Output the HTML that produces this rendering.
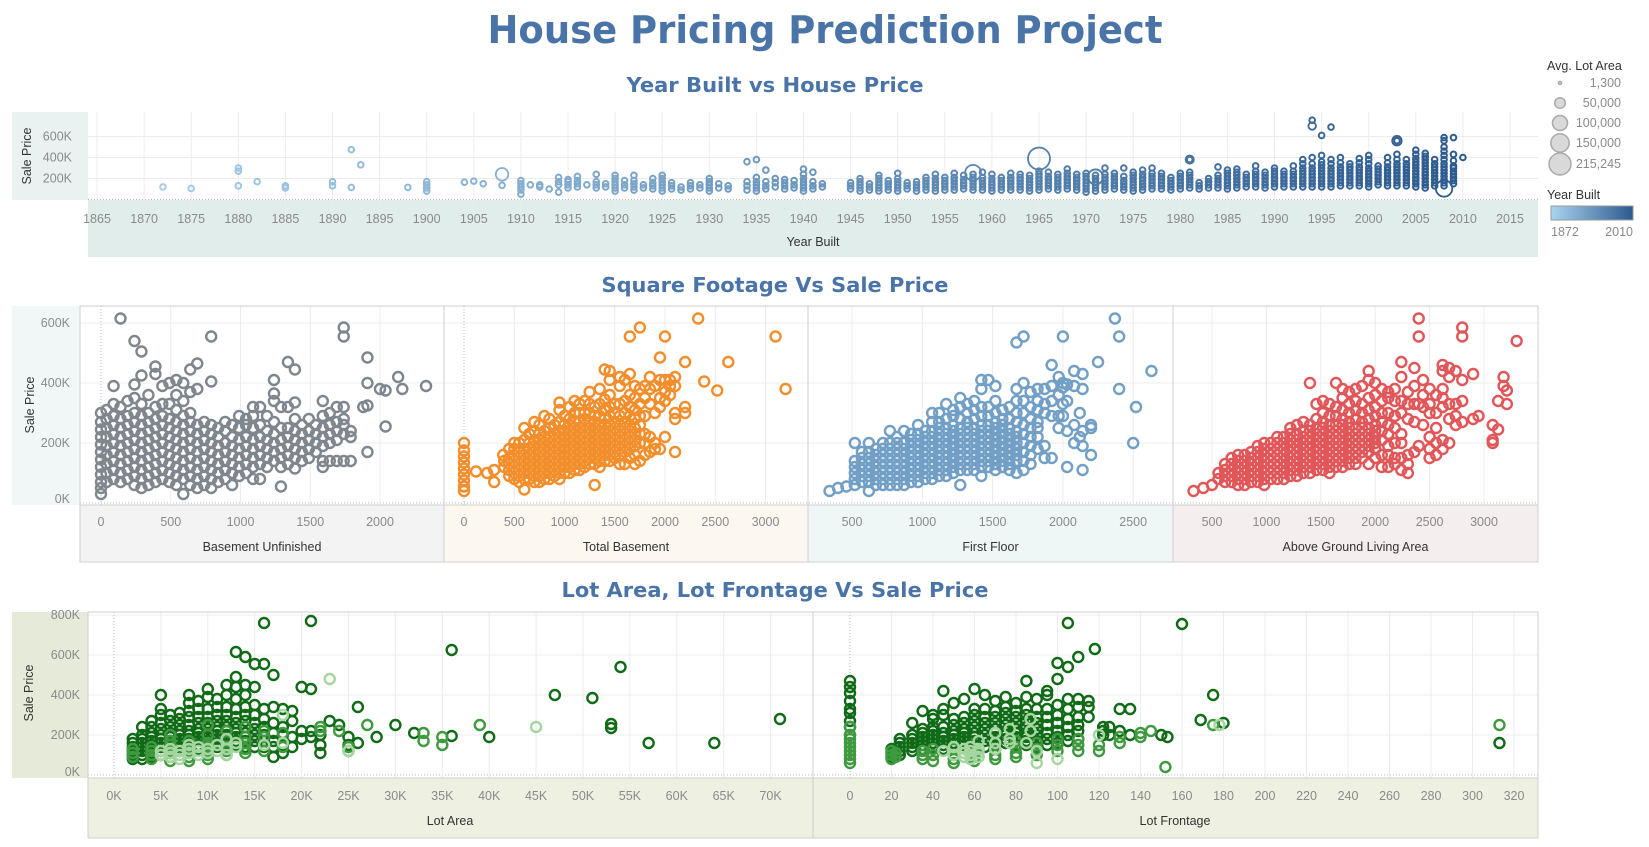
<!DOCTYPE html>
<html><head><meta charset="utf-8">
<style>
html,body{margin:0;padding:0;background:#fff;}
svg{display:block;font-family:"Liberation Sans","DejaVu Sans",sans-serif;}
.tick{font-size:12.5px;fill:#8a8a8a;}
.atitle{font-size:12.5px;fill:#333;}
.sec{font-family:"DejaVu Sans",sans-serif;font-weight:bold;fill:#4a74a8;}
</style></head>
<body>
<svg id="dash" width="1649" height="847" viewBox="0 0 1649 847" xmlns="http://www.w3.org/2000/svg">
<text x="825" y="43" text-anchor="middle" class="sec" font-size="38" textLength="675" lengthAdjust="spacingAndGlyphs">House Pricing Prediction Project</text>
<text x="775" y="92" text-anchor="middle" class="sec" font-size="20" textLength="297" lengthAdjust="spacingAndGlyphs">Year Built vs House Price</text>
<text x="775" y="292" text-anchor="middle" class="sec" font-size="20" textLength="347" lengthAdjust="spacingAndGlyphs">Square Footage Vs Sale Price</text>
<text x="775" y="597" text-anchor="middle" class="sec" font-size="20" textLength="427" lengthAdjust="spacingAndGlyphs">Lot Area, Lot Frontage Vs Sale Price</text>

<rect x="12" y="112" width="76" height="88" fill="#e9f2f0"/>
<rect x="88" y="200" width="1450" height="57" fill="#e0edea"/>
<rect x="12" y="306" width="68" height="199" fill="#f1f7f7"/>
<rect x="80" y="505" width="364" height="57" fill="#f3f3f3"/>
<rect x="444" y="505" width="364" height="57" fill="#fdf8ef"/>
<rect x="808" y="505" width="365" height="57" fill="#eff7f6"/>
<rect x="1173" y="505" width="365" height="57" fill="#f4eeee"/>
<rect x="12" y="612" width="76" height="166" fill="#e6ead8"/>
<rect x="88" y="778" width="1450" height="60" fill="#eef1e2"/>

<g id="grids"></g>
<g id="marks"></g>
<g id="frames"></g>
<g id="labels"></g>

<g font-size="12.5">
<text x="1547" y="70" fill="#333">Avg. Lot Area</text>
</g>
<g id="sizeLegend"></g>
<text x="1547" y="199" fill="#333" font-size="12.5">Year Built</text>
<defs><linearGradient id="yb" x1="0" x2="1"><stop offset="0" stop-color="#a9d3ef"/><stop offset="1" stop-color="#2c5a8e"/></linearGradient></defs>
<rect x="1551" y="206" width="82" height="14" fill="url(#yb)" stroke="#999"/>
<text x="1551" y="236" class="tick">1872</text>
<text x="1633" y="236" class="tick" text-anchor="end">2010</text>
</svg>
<script>
// ---------- DATA ----------
const ybYears=[1872,1875,1880,1882,1885,1890,1892,1893,1898,1900,1904,1905,1906,1908,1910,1911,1912,1913,1914,1915,1916,1917,1918,1919,1920,1921,1922,1923,1924,1925,1926,1927,1928,1929,1930,1931,1932,1934,1935,1936,1937,1938,1939,1940,1941,1942,1945,1946,1947,1948,1949,1950,1951,1952,1953,1954,1955,1956,1957,1958,1959,1960,1961,1962,1963,1964,1965,1966,1967,1968,1969,1970,1971,1972,1973,1974,1975,1976,1977,1978,1979,1980,1981,1982,1983,1984,1985,1986,1987,1988,1989,1990,1991,1992,1993,1994,1995,1996,1997,1998,1999,2000,2001,2002,2003,2004,2005,2006,2007,2008,2009,2010];
const ybPrices=[[120],[105],[130,270,300],[170],[110,130],[130,170],[115,475],[330],[115],[80,110,140,170],[165],[175],[150],[135],
[50,90,120,150,180],[140],[120,140],[100],[70,140,170,210],[110,140,170,190],[120,150,180,220],[140],[110,140,170,240],[120,150],
[80,110,140,170,200,230],[110,140,180],[90,120,150,180,230],[110,140],[100,130,160,200],[80,110,140,170,200,230],[100,130,160],[90,120],[100,130,160],[110,140],[80,110,140,170,200],[110,150],[100,130],[90,130,170,360],[80,110,140,170,210,380],[100,130,170,280],[120,160,200],[100,130,160,190],[110,140,180],[80,110,140,170,200,240,290],[100,130,170,260],[120,150],
[100,130,160],[80,110,140,170,200],[90,120,150],[80,110,140,170,200,230],[90,120,150,180],[80,110,140,170,200,250],[100,130,160],[80,110,140,170],[90,120,150,180,210],[80,110,140,170,200,240],[90,120,150,180,210],[90,120,150,180,210,250],[100,130,160,190,230],[90,120,150,180,210,240],[90,120,150,180,210,260],[80,110,140,170,200,240],[90,120,150,180,210],[90,120,150,180,210,250],[90,120,150,180,210,240],[80,110,140,170,200,230],[90,120,150,180,210,240,270],[100,130,160,190,220,260],[90,120,150,180,210,240],[100,130,160,190,220,250,290],[90,120,150,180,210,240],[70,100,130,160,190,220,250],[80,110,140,170,200,230],[90,120,150,180,210,240,300],[100,130,160,190,220,250],[90,120,150,180,220,300],[80,110,140,170,200,230,260],[90,120,150,180,210,240,280],[100,130,160,190,220,250,300],[100,130,160,190,220,250],[90,120,150,180,210],[100,130,160,190,220,250],[110,140,170,200,230,260,380],[100,130,160],[110,140,170,200],[110,140,170,200,230,310],[100,130,160,190,220,250,280],[110,140,170,200,230,260,290],[120,150,180,210,240],[120,150,180,210,240,270,320],[110,140,170,200,230,260],[120,150,180,210,240,270,300],[120,150,180,210,240,270],[120,150,180,210,240,270,320],[120,150,180,210,240,270,300,340,380],[120,150,180,210,240,270,300,340,400,755],[120,150,180,210,240,270,300,330,360,420,610],[120,150,180,210,240,270,300,340,380,690],[130,160,190,220,250,280,310,350,400],[130,160,190,220,250,280,310,340],[130,160,190,220,250,280,310,350,390],[120,150,180,210,240,270,300,340,380,420],[140,170,200,230,260,290,320],[130,160,190,220,250,280,310,350,400],[130,160,190,220,250,280,310,340,380,430,560],[130,160,190,220,250,280,310,340,380],[120,150,180,210,240,270,300,330,360,390,430,470],[110,140,170,200,230,260,290,320,350,380,410,440],[130,160,190,220,250,280,310,340,380],[130,160,190,220,250,280,310,340,380,420,460,500,560,590],[150,180,210,240,270,300,320,370,430,590],[400]];
const bigYears=[1908,1958,1965,1971,1981,2003,1994,2008];
const bigPrices=[240,255,390,215,380,560,700,105];
const bigLots=[70000,110000,215245,100000,30000,40000,25000,120000];
const sizeLegendVals=[1300,50000,100000,150000,215245];
const yearTicks=[1865,1870,1875,1880,1885,1890,1895,1900,1905,1910,1915,1920,1925,1930,1935,1940,1945,1950,1955,1960,1965,1970,1975,1980,1985,1990,1995,2000,2005,2010,2015];

const bsmtData=[[0,[30,50,70,95,120,145,170,195,220,245,270,300]],[40,[70,100,130,160,190,220,250,280,310]],[90,[80,110,140,170,200,230,260,290,330,390]],[140,[70,100,130,160,190,220,250,280,320,615]],[190,[80,110,140,170,200,230,260,290,340]],[240,[60,90,120,150,180,210,240,270,300,350,395,540]],[290,[50,80,110,140,170,200,230,260,290,330,425,505]],[340,[60,90,120,150,180,210,240,270,300,360]],[390,[70,100,130,160,190,220,250,280,320,430,455]],[440,[80,110,140,170,200,230,260,290,330,390]],[490,[70,100,130,160,190,220,250,280,330,400]],[540,[60,90,120,150,180,210,240,270,310,360,410]],[590,[30,80,110,140,170,200,230,260,290,340,400]],[640,[60,90,120,150,180,210,240,270,300,370,445]],[690,[50,80,110,140,170,200,230,260,380,465]],[740,[60,90,120,150,180,210,240,270]],[790,[50,80,110,140,170,200,230,260,405,555]],[840,[70,100,130,160,190,220,250]],[890,[80,110,140,170,200,240,270]],[940,[60,100,130,160,190,220,260]],[990,[90,120,150,180,210,250,290]],[1040,[100,130,160,190,220,260,280]],[1090,[80,120,150,180,210,250,290,320]],[1140,[80,130,160,190,220,260,320]],[1190,[120,150,180,210,240,290]],[1240,[140,170,200,230,270,340,365,410]],[1290,[55,120,150,180,210,250,320]],[1340,[130,160,190,220,250,320,470]],[1390,[115,150,180,210,240,280,335,445]],[1440,[140,170,200,230,260]],[1490,[150,180,210,240,280]],[1540,[170,200,230,260]],[1590,[120,140,190,220,250,290,340]],[1640,[140,200,230,260,300]],[1690,[140,210,240,270,320]],[1740,[140,230,260,280,320,555,585]],[1790,[140,220,240]],[1880,[320]],[1910,[170,325,400,485]],[2000,[380]],[2040,[255,375]],[2130,[420]],[2160,[380]],[2330,[390]]];
const totBsmtData=[[0,[40,55,75,95,115,135,155,175,200]],[120,[105]],[230,[100]],[300,[70,110]],[390,[160]],[400,[120,140]],[450,[90,110,130,150,180]],[500,[80,100,120,140,160,180,200]],[550,[70,90,110,130,150,170,200]],[600,[45,80,100,120,140,160,180,210,250]],[650,[80,100,120,140,160,180,200,230]],[700,[70,90,110,130,150,170,190,210,240,270]],[750,[70,90,110,130,150,170,190,210,230,260]],[800,[80,100,120,140,160,180,200,220,240,290]],[850,[80,100,120,140,160,180,200,220,250,280]],[900,[90,110,130,150,170,190,210,230,260]],[950,[80,100,120,140,160,180,200,220,240,270,310,335]],[1000,[100,120,140,160,180,200,220,240,260,290]],[1050,[100,120,140,160,180,200,220,240,260,280,320]],[1100,[110,130,150,170,190,210,230,250,270,300,340]],[1150,[110,130,150,170,190,210,230,250,270,300,330]],[1200,[120,140,160,180,200,220,240,260,280,300,340]],[1250,[130,150,170,190,210,230,250,270,300,330,370]],[1300,[60,130,150,170,190,210,230,250,270,290,320]],[1350,[120,140,160,180,200,220,240,260,290,330,380]],[1400,[140,160,180,200,220,240,260,280,310,345,445]],[1450,[140,160,180,200,220,240,260,290,320,360,410,440]],[1500,[150,170,190,210,230,250,270,300,330]],[1550,[130,160,180,200,220,240,260,290,330,390,420]],[1600,[130,170,190,210,230,250,270,300,340,410]],[1650,[150,180,200,220,240,260,290,320,360,430,555]],[1700,[130,160,190,210,230,250,280,310,350,390]],[1750,[140,200,230,260,290,330,380,585]],[1800,[160,200,230,290,350,390]],[1850,[170,220,330,380,420]],[1900,[180,200,300,390]],[1950,[180,320,350,410,485]],[2000,[220,340,370,410,555]],[2050,[360,390,410]],[2100,[170,280,300,390,420]],[2200,[300,320,470]],[2330,[615]],[2390,[405]],[2520,[375]],[2630,[470]],[3100,[555]],[3200,[380]]];
const firstFlrData=[[340,[40]],[400,[50]],[460,[55]],[520,[60,80,100,120,140,200]],[570,[70,90,110,130,150,170]],[620,[40,70,90,110,130,150,170,200]],[670,[60,80,100,120,140,160,180]],[720,[60,80,100,120,140,160,180,200]],[770,[60,80,100,120,140,160,180,200,240]],[820,[60,80,100,120,140,160,180,200,220]],[870,[60,80,100,120,140,160,180,200,240]],[920,[70,90,110,130,150,170,190,210,230]],[970,[70,90,110,130,150,170,190,210,230,260]],[1020,[80,100,120,140,160,180,200,220,240]],[1070,[80,100,120,140,160,180,200,220,240,270,300]],[1120,[90,110,130,150,170,190,210,230,250,270,300]],[1170,[90,110,130,150,170,190,210,230,250,280,330]],[1220,[100,120,140,160,180,200,220,240,260,290,310]],[1270,[60,110,130,150,170,190,210,230,250,280,320,350]],[1320,[110,130,150,170,190,210,230,250,270,300,330]],[1370,[110,130,150,170,190,210,230,250,280,310,340]],[1420,[90,120,140,160,180,200,220,240,260,290,320,380,410]],[1470,[120,140,160,180,200,220,240,260,290,320,410]],[1520,[110,130,150,170,190,210,230,250,270,300,340,390]],[1570,[120,140,160,180,200,220,240,260,280,310]],[1620,[110,130,150,170,190,210,230,250,280,320]],[1670,[100,140,160,180,200,220,240,270,300,340,380,535]],[1720,[110,140,170,200,230,260,300,340,400,555]],[1770,[130,160,190,220,250,280,320,370]],[1820,[180,220,250,270,310,340,380]],[1870,[150,190,300,330,380]],[1920,[150,290,340,390,460]],[1970,[250,290,360,420]],[2000,[290,330,385,400,555]],[2030,[120,240,340,395]],[2080,[200,260,390,440]],[2120,[220,300]],[2140,[110,190,240,380,430]],[2200,[160,250,260]],[2250,[470]],[2370,[615]],[2400,[380,555]],[2500,[200]],[2520,[320]],[2630,[440]]];
const grLivData=[[330,[40]],[420,[50]],[500,[60]],[560,[80,100]],[620,[70,90,110,130]],[680,[70,90,110,130,150]],[740,[60,80,100,120,140,160]],[800,[60,80,100,120,140,160]],[860,[70,90,110,130,150,170]],[920,[70,90,110,130,150,170,190]],[980,[60,80,100,120,140,160,180,200]],[1040,[80,100,120,140,160,180,200]],[1100,[80,100,120,140,160,180,200,220]],[1160,[80,100,120,140,160,180,200,220]],[1220,[90,110,130,150,170,190,210,230,250]],[1280,[90,110,130,150,170,190,210,230,260]],[1340,[100,120,140,160,180,200,220,240,270]],[1400,[100,120,140,160,180,200,220,240,260,400]],[1460,[110,130,150,170,190,210,230,250,280,330]],[1520,[110,130,150,170,190,210,230,250,270,300,340]],[1580,[100,120,140,160,180,200,220,240,260,290,330]],[1640,[120,140,160,180,200,220,240,260,290,320,400]],[1700,[120,140,160,180,200,220,240,260,280,310,350,380]],[1760,[130,150,170,190,210,230,250,270,300,330,370]],[1820,[130,150,170,190,210,230,250,280,310,340,380]],[1880,[150,170,190,210,230,250,270,300,330,390]],[1940,[130,170,190,210,230,250,280,310,350,410,440]],[2000,[150,180,200,220,240,260,290,320,360,400]],[2060,[120,160,210,240,270,300,340,380]],[2120,[120,160,190,230,260,300,350,370]],[2180,[130,150,200,250,290,340,380]],[2240,[110,150,200,230,300,340,420,470]],[2300,[100,130,160,280,330,370]],[2360,[170,270,330,390,450]],[2400,[190,330,555,615]],[2440,[260,320,360,410]],[2500,[150,180,220,300,330,380]],[2560,[160,200,250,300,360]],[2620,[180,210,320,350,380,440,460]],[2680,[200,280,330,420,450]],[2740,[260,290,330,440]],[2800,[270,340,410,555,585]],[2900,[280,430]],[2950,[290]],[3080,[200,210,260]],[3130,[245,340]],[3180,[390,420]],[3210,[330,375]],[3300,[540]]];

const lotAreaData=[[2,[80,100,120,140,160,180],0],[3,[80,100,120,140,160,180,200,240],0],[4,[90,110,130,150,170,190,210,240,270],0],[5,[100,120,140,160,180,200,230,260,300,330,400],0],[6,[110,130,150,170,190,210,240,270,300],0],[7,[120,140,160,180,200,220,250,280,310],0],[8,[120,140,160,180,200,220,250,290,320,360,400],0],[9,[130,150,170,190,210,230,260,290,330,370],0],[10,[130,150,170,190,210,230,260,290,330,390,430],0],[11,[140,160,180,200,220,240,270,300,340,380],0],[12,[140,160,180,200,220,240,270,300,340,400,450],0],[13,[150,170,190,210,230,260,290,330,380,440,490,615],0],[14,[140,170,190,210,240,270,300,340,400,450,590],0],[15,[140,170,200,230,260,300,350,440,555],0],[16,[140,170,200,240,280,330,555,760],0],[17,[90,140,170,210,260,340,500],0],[18,[110,150,200,240,330],0],[19,[140,190,270,320],0],[20,[180,220,440],0],[21,[190,220,430,770],0],[22,[110,150,200],0],[23,[270],0],[24,[250],0],[25,[190,150],0],[26,[160,340],0],[27,[250],1],[28,[190],0],[30,[250],0],[32,[210],0],[33,[170,210],1],[35,[150,190],1],[36,[625,195],0],[39,[250],1],[40,[190],0],[45,[240],2],[47,[400],0],[51,[385],0],[53,[255,235],0],[54,[540],0],[57,[160],0],[64,[160],0],[71,[280],0],
[2,[90,110,130],1],[4,[80,100,120,140],1],[6,[70,90,110,130,150,170,200],1],[8,[70,90,110,130,150,170],1],[10,[80,100,120,140,160,200,250],1],[12,[100,120,140,170,220],1],[14,[110,130,160,190,240],1],[16,[120,150,190,220],1],[18,[140,210],1],[22,[220,240],1],[24,[220],1],[25,[140,120],1],
[5,[100,120],2],[6,[90,110,130],2],[7,[80,100,120],2],[8,[110,130,150],2],[9,[100,120,140],2],[10,[110,130],2],[11,[120,150],2],[12,[100,130,180],2],[13,[140,160],2],[16,[150],2],[18,[160,300],2],[23,[480],2],[25,[120],2]];
const lotFrontData=[[0,[200,240,270,310,330,370,410,440,470],0],[20,[90,110,130],0],[24,[100,120,140,160,180],0],[30,[120,140,160,180,200,260],0],[35,[130,150,170,190,210,230,320],0],[40,[140,160,180,200,220,240,280,300],0],[45,[130,150,170,190,210,240,300,330,420],0],[50,[140,160,180,200,220,250,280,360],0],[55,[150,170,190,210,230,260,290,380],0],[60,[150,170,190,210,240,270,300,330,430],0],[65,[140,170,200,230,260,290,330,400],0],[70,[150,170,190,210,230,260,290,320,370],0],[75,[160,180,200,220,250,280,310,340,390],0],[80,[150,170,190,210,230,260,290,320,360],0],[85,[150,170,190,210,240,270,300,330,390,470],0],[90,[140,170,200,230,260,290,330,380],0],[95,[150,180,210,250,290,330,400,420],0],[100,[160,190,220,260,300,350,480,560],0],[105,[170,200,240,280,330,380,540,760],0],[110,[180,220,250,290,340,380,590],0],[115,[290,340,370],0],[118,[630],0],[122,[200,220,240],0],[125,[200,240],0],[130,[220,330],0],[135,[200,330],0],[150,[200],0],[153,[190],0],[160,[755],0],[169,[275],0],[175,[400],0],[180,[260],0],[313,[160],0],
[0,[60,80,100,120,140,160,180,200,240],1],[20,[80,100,120],1],[22,[90,110],1],[35,[80,100,120],1],[40,[70,100,130],1],[50,[60,80,100,130],1],[60,[70,90,110],1],[70,[80,100,130],1],[80,[90,110,140,170],1],[90,[100,130,160],1],[100,[120,150,180],1],[110,[120,150,180],1],[120,[120,150],1],[130,[160,190],1],[140,[190,210],1],[145,[220],1],[152,[40],1],[175,[250],1],[313,[250],1],
[45,[120],2],[50,[100,140],2],[55,[90,110,130],2],[58,[80,100,120,140],2],[62,[90,110,130,170],2],[70,[130,160,210],2],[77,[160,180,230],2],[85,[160],2],[87,[220,280],2],[90,[60,120],2],[100,[80],2],[120,[200],2],[178,[250],2]];

const sqftTicks=[[0,500,1000,1500,2000],[0,500,1000,1500,2000,2500,3000],[500,1000,1500,2000,2500],[500,1000,1500,2000,2500,3000]];
const lotAreaTicks=[0,5,10,15,20,25,30,35,40,45,50,55,60,65,70];
const lotFrontTicks=[0,20,40,60,80,100,120,140,160,180,200,220,240,260,280,300,320];

// ---------- HELPERS ----------
const NS="http://www.w3.org/2000/svg";
function mk(tag,attrs,parent){const e=document.createElementNS(NS,tag);for(const k in attrs)e.setAttribute(k,attrs[k]);document.getElementById(parent).appendChild(e);return e;}
function txt(x,y,s,cls,anchor,parent){const t=mk('text',{x:x,y:y,class:cls,'text-anchor':anchor},parent);t.textContent=s;return t;}
function fmtK(v){return v+'K';}

const yrX=y=>97+(y-1865)*9.42, yrY=p=>199.5-p*0.105;
const midY=p=>503-p*0.3;
const sqX=[v=>101+v*0.1395, v=>464+v*0.1005, v=>852+(v-500)*0.1406, v=>1212+(v-500)*0.1088];
const botY=p=>775-p*0.2;
const laX=v=>114+v*9.38, lfX=v=>850+v*2.075;

// ---------- TOP CHART ----------
for(const t of yearTicks){
  const l=mk('line',{x1:yrX(t),x2:yrX(t),y1:112,y2:214,stroke:'#ececec'},'grids');
  
  
  const tl=txt(yrX(t),223,String(t),'tick','middle','labels');
  
  
}
for(const p of [200,400,600]){
  const l=mk('line',{x1:88,x2:1538,y1:yrY(p),y2:yrY(p),stroke:'#ececec'},'grids');
  
  
  const tl=txt(72,yrY(p)+4,fmtK(p),'tick','end','labels');
  
  
}
{const l=mk('line',{x1:88,x2:1538,y1:199.5,y2:199.5,stroke:'#bbb','stroke-dasharray':'1,2'},'grids');

}
function yrColor(y){const t=Math.max(0,Math.min(1,(y-1872)/138));const a=[166,206,234],b=[44,90,142];return 'rgb('+a.map((v,i)=>Math.round(v+(b[i]-v)*t)).join(',')+')';}
function lotR(l){return Math.max(2.4,11*Math.sqrt(l/215245));}
ybYears.forEach((yr,i)=>{
  for(const p of ybPrices[i]){
    const c=mk('circle',{cx:yrX(yr),cy:yrY(p),r:2.8,fill:'none',stroke:yrColor(yr),'stroke-width':2},'marks');
    
    
  }
});
bigYears.forEach((yr,i)=>{
  const c=mk('circle',{cx:yrX(yr),cy:yrY(bigPrices[i]),r:lotR(bigLots[i]),fill:'none',stroke:yrColor(yr),'stroke-width':1.8},'marks');
  
  
});
{const t=txt(0,0,'Sale Price','atitle','middle','labels');t.setAttribute('transform','translate(31,156) rotate(-90)');

}
{const t=txt(813,246,'Year Built','atitle','middle','labels');

}
const legY=[83,103,123,143,164];
sizeLegendVals.forEach((v,i)=>{
  const c=mk('circle',{cx:1560,cy:legY[i],r:Math.max(1.5,11*Math.sqrt(v/215245)),fill:'#d9d9d9',stroke:'#aaa','stroke-width':1.5},'sizeLegend');
  
  
  const t=txt(1621,legY[i]+4,v.toLocaleString('en-US'),'tick','end','sizeLegend');
  
  
});

// ---------- MIDDLE CHARTS ----------
const sqData=[bsmtData,totBsmtData,firstFlrData,grLivData];
const sqColors=['#7f868d','#f28e2b','#729fc5','#e15759'];
const sqNames=['Basement Unfinished','Total Basement','First Floor','Above Ground Living Area'];
const sqBounds=[[80,444],[444,808],[808,1173],[1173,1538]];
for(const p of [0,200,400,600]){
  const l=mk('line',{x1:80,x2:1538,y1:midY(p),y2:midY(p),stroke:p===0?'#bbb':'#ececec','stroke-dasharray':p===0?'1,2':'none'},'grids');
  
  
  const t=txt(70,midY(p)+4+(p===0?-4:0),fmtK(p),'tick','end','labels');
  
  
}
sqData.forEach((data,k)=>{
  const X=sqX[k];
  for(const t of sqftTicks[k]){
    const gx=X(t);
    const l=mk('line',{x1:gx,x2:gx,y1:306,y2:505,stroke:t===0?'#bbb':'#ececec','stroke-dasharray':t===0?'1,2':'none'},'grids');
    
    
    const tl=txt(gx,526,String(t),'tick','middle','labels');
    
    
  }
  for(const [x,ps] of data){
    for(const p of ps){
      const c=mk('circle',{cx:X(x),cy:midY(p),r:5,fill:'none',stroke:sqColors[k],'stroke-width':2.4},'marks');
      
      
    }
  }
  const b=sqBounds[k];
  const tt=txt((b[0]+b[1])/2,551,sqNames[k],'atitle','middle','labels');
  
  
  const fr=mk('rect',{x:b[0],y:306,width:b[1]-b[0],height:256,fill:'none',stroke:'#cfcfcf'},'frames');
  
  
});
{const l=mk('line',{x1:80,x2:1538,y1:505,y2:505,stroke:'#cfcfcf'},'frames');


const t=txt(0,0,'Sale Price','atitle','middle','labels');t.setAttribute('transform','translate(34,405) rotate(-90)');

}

// ---------- BOTTOM CHARTS ----------
const greens=['#0f6b16','#3f9a3f','#a6d6a0'];
for(const p of [0,200,400,600,800]){
  const l=mk('line',{x1:88,x2:1538,y1:botY(p),y2:botY(p),stroke:p===0?'#bbb':'#ececec','stroke-dasharray':p===0?'1,2':'none'},'grids');
  
  
  const t=txt(80,botY(p)+4+(p===0?-3:0),fmtK(p),'tick','end','labels');
  
  
}
for(const t of lotAreaTicks){
  const l=mk('line',{x1:laX(t),x2:laX(t),y1:612,y2:778,stroke:t===0?'#bbb':'#ececec','stroke-dasharray':t===0?'1,2':'none'},'grids');
  
  
  const tl=txt(laX(t),800,t+'K','tick','middle','labels');
  
  
}
for(const t of lotFrontTicks){
  const l=mk('line',{x1:lfX(t),x2:lfX(t),y1:612,y2:778,stroke:t===0?'#bbb':'#ececec','stroke-dasharray':t===0?'1,2':'none'},'grids');
  
  
  const tl=txt(lfX(t),800,String(t),'tick','middle','labels');
  
  
}
function drawGreen(data,X){
  for(const lvl of [0,1,2]){
    for(const [x,ps,s] of data){
      if(s!==lvl)continue;
      for(const p of ps){
        const c=mk('circle',{cx:X(x),cy:botY(p),r:5,fill:'none',stroke:greens[s],'stroke-width':2.4},'marks');
        
        
      }
    }
  }
}
drawGreen(lotAreaData,laX);
drawGreen(lotFrontData,lfX);
{const f1=mk('rect',{x:88,y:612,width:725,height:226,fill:'none',stroke:'#cfcfcf'},'frames');


const f2=mk('rect',{x:813,y:612,width:725,height:226,fill:'none',stroke:'#cfcfcf'},'frames');


const l=mk('line',{x1:88,x2:1538,y1:778,y2:778,stroke:'#cfcfcf'},'frames');


const t1=txt(450,825,'Lot Area','atitle','middle','labels');


const t2=txt(1175,825,'Lot Frontage','atitle','middle','labels');


const t3=txt(0,0,'Sale Price','atitle','middle','labels');t3.setAttribute('transform','translate(33,693) rotate(-90)');

}
</script>
</body></html>
